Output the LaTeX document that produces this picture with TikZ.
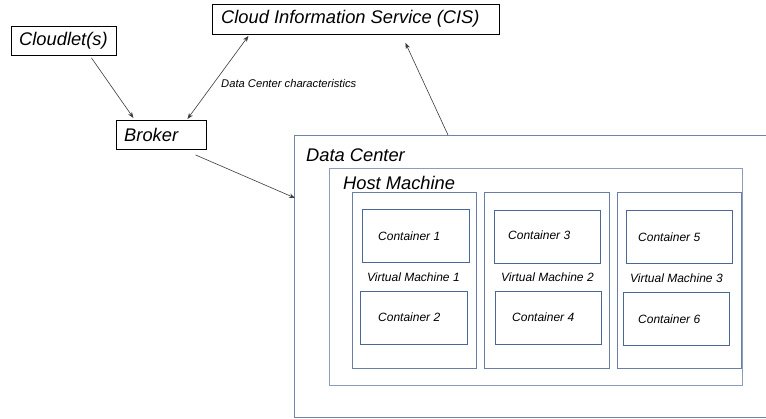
\documentclass[tikz,border=0pt]{standalone}
\usepackage{fontspec}
\setmainfont{Liberation Sans}
\usetikzlibrary{arrows.meta}
\definecolor{dcblue}{HTML}{6F84AA}
\definecolor{hostblue}{HTML}{8C9DBC}
\definecolor{vmblue}{HTML}{6A7FA8}
\definecolor{ctblue}{HTML}{4B6796}
\definecolor{arrowgrey}{HTML}{3A3A3A}
\begin{document}
\begin{tikzpicture}[x=1pt,y=-1pt,
  >={Stealth[length=6pt,width=4.5pt]},
  frame/.style={rectangle,anchor=north west,inner sep=0pt,line width=1pt},
  bigbox/.style={frame,draw=black,line width=0.9pt},
  dcframe/.style={frame,draw=dcblue},
  hostframe/.style={frame,draw=hostblue},
  vmframe/.style={frame,draw=vmblue,minimum height=176},
  ctframe/.style={frame,draw=ctblue,minimum height=53},
  bigtext/.style={font=\fontsize{18.3}{20}\selectfont\itshape,anchor=west,inner sep=0pt},
  smalltext/.style={font=\fontsize{12}{14}\selectfont\itshape,anchor=west,inner sep=0pt},
  conn/.style={draw=arrowgrey,line width=0.6pt,->},
  biconn/.style={draw=arrowgrey,line width=0.6pt,<->}]
\useasboundingbox (0,0) rectangle (766,419);

% top-level entities
\node[bigbox,minimum width=105,minimum height=29] (cloudletbox) at (11,26) {};
\node[bigtext] (cloudlet) at (19,41) {Cloudlet(s)};

\node[bigbox,minimum width=287,minimum height=30] (cisbox) at (212,4) {};
\node[bigtext] (cis) at (221,19) {Cloud Information Service (CIS)};

\node[bigbox,minimum width=90,minimum height=29] (brokerbox) at (116,120) {};
\node[bigtext] (broker) at (124,135) {Broker};

% data center: its right side runs off the page
\node[dcframe,minimum width=506,minimum height=282] (dcbox) at (294,135) {};
\node[bigtext] (dc) at (306,155) {Data Center};

% host machine
\node[hostframe,minimum width=413,minimum height=217] (hostbox) at (329,168) {};
\node[bigtext] (host) at (343,183) {Host Machine};

% virtual machines
\node[vmframe,minimum width=124] (vm1box) at (352,192) {};
\node[vmframe,minimum width=125] (vm2box) at (484,192) {};
\node[vmframe,minimum width=124] (vm3box) at (617,192) {};
\node[smalltext] (vm1) at (367,277) {Virtual Machine 1};
\node[smalltext] (vm2) at (501,277) {Virtual Machine 2};
\node[smalltext] (vm3) at (630,278) {Virtual Machine 3};

% containers
\node[ctframe,minimum width=107] (c1box) at (362,209) {};
\node[ctframe,minimum width=107] (c2box) at (360,291) {};
\node[ctframe,minimum width=106] (c3box) at (494,210) {};
\node[ctframe,minimum width=106] (c4box) at (495,291) {};
\node[ctframe,minimum width=106] (c5box) at (626,210) {};
\node[ctframe,minimum width=106] (c6box) at (623,292) {};
\node[smalltext] (c1) at (378,236) {Container 1};
\node[smalltext] (c2) at (378,317) {Container 2};
\node[smalltext] (c3) at (508,235) {Container 3};
\node[smalltext] (c4) at (512,317) {Container 4};
\node[smalltext] (c5) at (638,237) {Container 5};
\node[smalltext] (c6) at (638,319) {Container 6};

% connectors
\draw[conn] ([xshift=27.5pt,yshift=-2pt]cloudletbox.south) -- ([xshift=-28pt,yshift=2pt]brokerbox.north);
\draw[biconn] ([xshift=26pt,yshift=1pt]brokerbox.north) -- ([xshift=-107.5pt,yshift=-1pt]cisbox.south);
\node[font=\fontsize{11.2}{13}\selectfont\itshape,anchor=west,inner sep=0pt] (dcchar) at (221,84) {Data Center characteristics};
\draw[conn] ([xshift=154pt]dcbox.north west) -- ([xshift=49.5pt,yshift=-8pt]cisbox.south);
\draw[conn] ([xshift=34pt,yshift=-5pt]brokerbox.south) -- ([xshift=1pt,yshift=-63pt]dcbox.north west);
\end{tikzpicture}
\end{document}
